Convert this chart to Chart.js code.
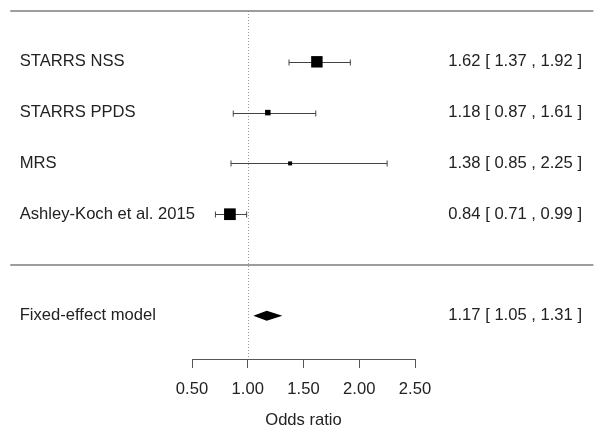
<!DOCTYPE html>
<html><head><meta charset="utf-8">
<script src="https://cdn.jsdelivr.net/npm/chart.js@4.4.0/dist/chart.umd.min.js"></script>
<style>html,body{margin:0;padding:0;background:#fff;}#wrap{width:600px;height:438px;}</style>
</head><body><div id="wrap"><canvas id="c" width="600" height="438"></canvas></div>
<script>
// ---- data ----
const studies = ['STARRS NSS', 'STARRS PPDS', 'MRS', 'Ashley-Koch et al. 2015'];
const estimates = [1.62, 1.18, 1.38, 0.84];
const lower = [1.37, 0.87, 0.85, 0.71];
const upper = [1.92, 1.61, 2.25, 0.99];
const summaryLabels = ['Fixed-effect model'];
const summaryEstimates = [1.17];
const summaryLower = [1.05];
const summaryUpper = [1.31];
const xTicks = [0.5, 1.0, 1.5, 2.0, 2.5];
const axisTitle = 'Odds ratio';

// ---- style ----
const FONT = '"Liberation Sans", Arial, Helvetica, sans-serif';
const FSIZE = 16.6;
const TEXT = '#222';
const GEOM = { lineFrom: -1.13, lineTo: 4.1, labelAt: -1.045, annotAt: 3.998, minSide: 4, maxSide: 11.7 };

const k = studies.length;
const rows = studies.map((_, i) => k - i);           // 4,3,2,1
const summaryRow = -1, sepRow = 0, topRow = k + 1;
// inverse-variance weights -> square sizes (metafor style)
const weights = studies.map((_, i) => { const se = (Math.log(upper[i]) - Math.log(lower[i])) / (2 * 1.959964); return 1 / (se * se); });
const wMin = Math.min(...weights), wMax = Math.max(...weights);
const sides = weights.map(w => GEOM.minSide + (w - wMin) / (wMax - wMin) * (GEOM.maxSide - GEOM.minSide));
const fmt = v => v.toFixed(2);

const forest = {
  id: 'forest',
  beforeDatasetsDraw(chart) {
    const { ctx, scales: { x, y } } = chart;
    ctx.save();
    // reference line at OR = 1
    const p1 = Math.round(x.getPixelForValue(1)) + 0.5;
    ctx.strokeStyle = '#9a9a9a'; ctx.lineWidth = 1; ctx.setLineDash([1, 2]);
    ctx.beginPath(); ctx.moveTo(p1, y.getPixelForValue(topRow)); ctx.lineTo(p1, y.bottom); ctx.stroke();
    ctx.setLineDash([]);
    // horizontal rules
    ctx.strokeStyle = '#7d7d7d'; ctx.lineWidth = 1.6;
    [topRow, sepRow].forEach(r => {
      const py = y.getPixelForValue(r);
      ctx.beginPath(); ctx.moveTo(x.getPixelForValue(GEOM.lineFrom), py); ctx.lineTo(x.getPixelForValue(GEOM.lineTo), py); ctx.stroke();
    });
    // confidence intervals
    ctx.strokeStyle = '#444'; ctx.lineWidth = 1;
    studies.forEach((_, i) => {
      const py = Math.round(y.getPixelForValue(rows[i])) + 0.5;
      const a = x.getPixelForValue(lower[i]), b = x.getPixelForValue(upper[i]);
      ctx.beginPath();
      ctx.moveTo(a, py); ctx.lineTo(b, py);
      ctx.moveTo(a, py - 3); ctx.lineTo(a, py + 3);
      ctx.moveTo(b, py - 3); ctx.lineTo(b, py + 3);
      ctx.stroke();
    });
    // summary diamond
    ctx.fillStyle = '#000';
    summaryEstimates.forEach((e, i) => {
      const py = y.getPixelForValue(summaryRow - i);
      ctx.beginPath();
      ctx.moveTo(x.getPixelForValue(summaryLower[i]), py);
      ctx.lineTo(x.getPixelForValue(e), py - 5);
      ctx.lineTo(x.getPixelForValue(summaryUpper[i]), py);
      ctx.lineTo(x.getPixelForValue(e), py + 5);
      ctx.closePath(); ctx.fill();
    });
    ctx.restore();
  },
  afterDraw(chart) {
    const { ctx, scales: { x, y } } = chart;
    ctx.save();
    ctx.font = FSIZE + 'px ' + FONT; ctx.fillStyle = TEXT; ctx.textBaseline = 'middle';
    const lx = x.getPixelForValue(GEOM.labelAt), rx = x.getPixelForValue(GEOM.annotAt);
    const put = (lab, e, lo, hi, r) => {
      const py = y.getPixelForValue(r);
      ctx.textAlign = 'left'; ctx.fillText(lab, lx, py);
      ctx.textAlign = 'right'; ctx.fillText(fmt(e) + ' [ ' + fmt(lo) + ' , ' + fmt(hi) + ' ]', rx, py);
    };
    studies.forEach((s, i) => put(s, estimates[i], lower[i], upper[i], rows[i]));
    summaryLabels.forEach((s, i) => put(s, summaryEstimates[i], summaryLower[i], summaryUpper[i], summaryRow - i));
    ctx.restore();
  }
};

new Chart(document.getElementById('c'), {
  type: 'scatter',
  data: {
    datasets: [{
      data: studies.map((_, i) => ({ x: estimates[i], y: rows[i] })),
      pointStyle: 'rect',
      pointRadius: sides.map(s => s / Math.SQRT2),
      pointHoverRadius: sides.map(s => s / Math.SQRT2),
      backgroundColor: '#000', borderColor: '#000', borderWidth: 0
    }]
  },
  options: {
    responsive: false, animation: false,
    layout: { padding: { left: 192, right: 185, top: 11, bottom: 0 } },
    plugins: { legend: { display: false }, tooltip: { enabled: false } },
    scales: {
      x: {
        type: 'linear', min: xTicks[0], max: xTicks[xTicks.length - 1],
        afterBuildTicks: s => { s.ticks = xTicks.map(v => ({ value: v })); },
        afterFit: s => { s.height = 79; },
        ticks: { callback: v => fmt(v), font: { size: FSIZE, family: FONT }, color: TEXT, padding: 11, maxRotation: 0 },
        grid: { drawOnChartArea: false, drawTicks: true, tickLength: 9, tickColor: '#555', tickWidth: 1 },
        border: { display: true, color: '#555', width: 1 },
        title: { display: true, text: axisTitle, font: { size: FSIZE, family: FONT }, color: TEXT, padding: { top: 0, bottom: 8 } }
      },
      y: { type: 'linear', min: -1.85, max: topRow, display: false }
    }
  },
  plugins: [forest]
});
</script></body></html>
